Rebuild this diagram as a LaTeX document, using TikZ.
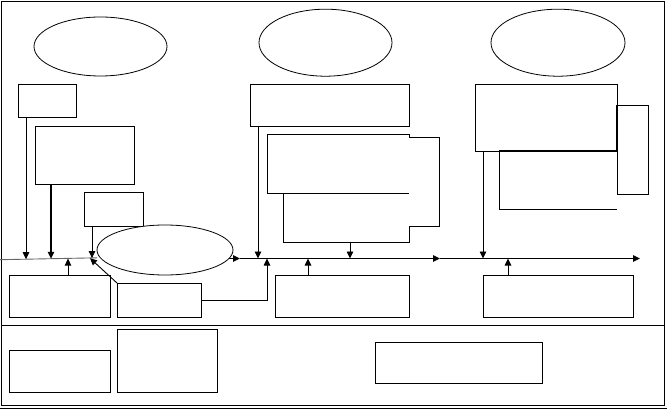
\documentclass[tikz,border=0pt]{standalone}
\usetikzlibrary{shapes.geometric,arrows.meta}
\begin{document}
\begin{tikzpicture}[x=1pt,y=-1pt,line width=0.9pt,
  bx/.style={draw,rectangle,inner sep=0pt,outer sep=0pt},
  el/.style={draw,ellipse,inner sep=0pt,outer sep=0pt,fill=white,line width=0.8pt},
  arr/.style={-{Triangle[length=7pt,width=6.5pt]}},
  frame/.style={line width=1pt}]
\useasboundingbox (0,0) rectangle (667,409);
% frame
\draw[frame] (1.5,1.5) rectangle (664,405);
\draw[frame] (1.5,325) -- (664,325);
\draw[frame] (0,408) -- (667,408);
% top ellipses
\node[el,minimum width=133pt,minimum height=59pt] (e1) at (100.5,46.5) {};
\node[el,minimum width=133pt,minimum height=67pt] (e2) at (325.5,42.7) {};
\node[el,minimum width=134pt,minimum height=67pt] (e3) at (558,42.7) {};
% left boxes
\node[bx,minimum width=58pt,minimum height=33pt] (b1) at (47,100.5) {};
\node[bx,minimum width=99pt,minimum height=58pt] (b2) at (84.5,155) {};
\node[bx,minimum width=59pt,minimum height=34pt] (b3) at (113.5,209) {};
\node[bx,minimum width=101pt,minimum height=42pt] (b4) at (59.5,296) {};
\node[bx,minimum width=84pt,minimum height=34pt] (b5) at (159,300) {};
% middle boxes
\node[bx,minimum width=159pt,minimum height=42pt] (m1) at (329.5,105) {};
\node[bx,minimum width=134pt,minimum height=42pt] (m3) at (342,296) {};
\draw (409,193) -- (267,193) -- (267,134) -- (409,134) -- (409,137) -- (439,137)
      -- (439,226) -- (409,226) -- (409,242) -- (283,242) -- (283,193);
% right boxes
\node[bx,minimum width=142pt,minimum height=67pt] (r1) at (546,117.5) {};
\node[bx,minimum width=31pt,minimum height=89pt] (r2) at (632.5,149.5) {};
\node[bx,minimum width=150pt,minimum height=42pt] (r4) at (558,296) {};
\draw (617,209) -- (499,209) -- (499,151);
\draw[line width=1.3pt] (499,151) -- (617,151) -- (617,105);
% bottom boxes
\node[bx,minimum width=101pt,minimum height=42pt] (l1) at (59.5,371) {};
\node[bx,minimum width=100pt,minimum height=63pt] (l2) at (167,360.5) {};
\node[bx,minimum width=167pt,minimum height=41pt] (l3) at (458.5,362.5) {};
% axis coordinates
\coordinate (axL) at (0,259.7);
\coordinate (axLe) at (97,257.8);
\coordinate (ax0) at (150,258.5);
\coordinate (ax1) at (240,258.5);
\coordinate (ax2) at (440,258.5);
\coordinate (ax3) at (640,258.5);
\coordinate (d1) at (26,259.2);
\coordinate (d2) at (51,258.8);
\coordinate (d3) at (92,258.1);
\coordinate (u1) at (68,258.6);
\coordinate (dg) at (90,258.2);
\coordinate (dm1) at (258,258.5);
\coordinate (um2) at (267,258.5);
\coordinate (um3) at (308,258.5);
\coordinate (dm2) at (350,258.5);
\coordinate (dm2s) at (350,242);
\coordinate (dr1) at (483,258.5);
\coordinate (ur4) at (508,258.5);
% axis
\draw[gray!80!black,line width=0.9pt] (axL) -- (axLe);
\draw[arr] (ax0) -- (ax1);
\draw[arr] (ax1) -- (ax2);
\draw[arr] (ax2) -- (ax3);
% lower ellipse
\node[el,minimum width=136pt,minimum height=50pt] (e4) at (165,250) {};
% connectors left
\draw[arr] (b1.south -| d1) -- (d1);
\draw[arr,line width=1.2pt] (b2.south -| d2) -- (d2);
\draw[arr] (b3.south -| d3) -- (d3);
\draw[arr] (b4.north -| u1) -- (u1);
\draw[arr] (b5.north west) -- (dg);
\draw[arr] (b5.east) -| (um2);
% connectors middle
\draw[arr] (m1.south -| dm1) -- (dm1);
\draw[arr] (dm2s) -- (dm2);
\draw[arr] (m3.north -| um3) -- (um3);
% connectors right
\draw[arr] (r1.south -| dr1) -- (dr1);
\draw[arr] (r4.north -| ur4) -- (ur4);
\end{tikzpicture}
\end{document}
